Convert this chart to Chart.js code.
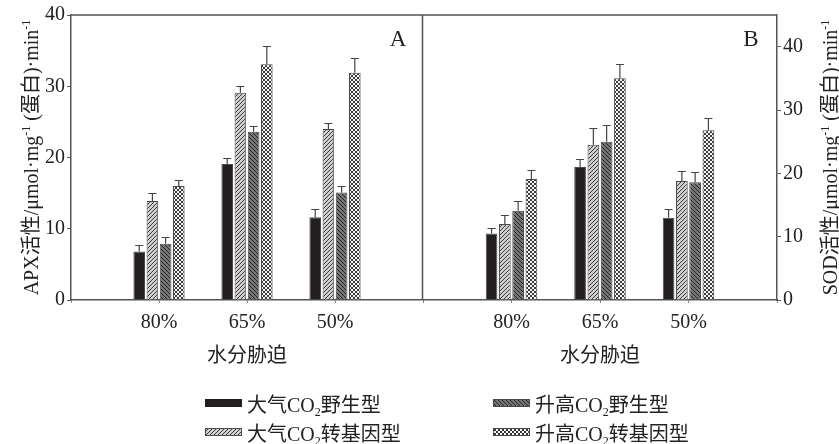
<!DOCTYPE html>
<html>
<head>
<meta charset="utf-8">
<script src="https://cdn.jsdelivr.net/npm/chart.js@4.4.1/dist/chart.umd.min.js"></script>
<style>
  html, body { margin: 0; padding: 0; background: #fff; }
  #wrap { position: relative; width: 839px; height: 444px; overflow: hidden; }
  #wrap canvas.chart { position: absolute; top: 0; }
  .leg { position: absolute; display: flex; align-items: center; height: 24px;
         font: 20px 'Liberation Serif', 'Noto Sans CJK SC', serif; color: #222; white-space: nowrap; }
  .leg canvas { margin-right: 5px; }
  .leg sub { font-size: 12px; vertical-align: -4px; line-height: 0; }
</style>
</head>
<body>
<div id="wrap">
  <canvas id="chartA" class="chart" width="424" height="444" style="left:0"></canvas>
  <canvas id="chartB" class="chart" width="416" height="444" style="left:423px"></canvas>
</div>
<script>
// categories and series
const categories = ['80%', '65%', '50%'];
const seriesNames = ['大气CO2野生型', '大气CO2转基因型', '升高CO2野生型', '升高CO2转基因型'];

// panel A: APX activity (mean, upper error)
const apxAmbientWT = [6.8, 19.1, 11.6];
const apxAmbientTG = [13.9, 29.1, 24.0];
const apxElevatedWT = [7.9, 23.6, 15.1];
const apxElevatedTG = [16.0, 33.1, 31.9];
const apxAmbientWTErr = [0.9, 0.9, 1.2];
const apxAmbientTGErr = [1.1, 0.9, 0.8];
const apxElevatedWTErr = [1.0, 0.8, 0.9];
const apxElevatedTGErr = [0.9, 2.5, 2.1];

// panel B: SOD activity
const sodAmbientWT = [10.5, 21.0, 13.0];
const sodAmbientTG = [12.0, 24.5, 18.8];
const sodElevatedWT = [14.1, 25.0, 18.6];
const sodElevatedTG = [19.1, 35.0, 26.8];
const sodAmbientWTErr = [0.9, 1.3, 1.3];
const sodAmbientTGErr = [1.5, 2.6, 1.5];
const sodElevatedWTErr = [1.6, 2.7, 1.6];
const sodElevatedTGErr = [1.4, 2.2, 2.0];

const apxTicks = [0, 10, 20, 30, 40];
const sodTicks = [0, 10, 20, 30, 40];

const SERIF = "'Liberation Serif', 'Noto Sans CJK SC', serif";
const AXIS = '#555';

// pixel patterns: 4x4 tiles
function makePattern(kind) {
  if (kind === 'solid') return '#231f20';
  const s = 4;
  const c = document.createElement('canvas');
  c.width = c.height = s;
  const g = c.getContext('2d');
  g.fillStyle = kind === 'light' ? '#cfcfcf' : kind === 'dark' ? '#767676' : '#f6f6f6';
  g.fillRect(0, 0, s, s);
  g.fillStyle = kind === 'dark' ? '#222' : '#3a3a3a';
  for (let y = 0; y < s; y++) {
    for (let x = 0; x < s; x++) {
      const fwd = (x + y) % s === s - 1;
      const back = ((x - y) % s + s) % s === 0;
      if ((kind === 'light' && fwd) || (kind === 'dark' && back) || (kind === 'cross' && (fwd || back))) {
        g.fillRect(x, y, 1, 1);
      }
    }
  }
  return g.createPattern(c, 'repeat');
}
const fills = [makePattern('solid'), makePattern('light'), makePattern('dark'), makePattern('cross')];

const pad = arr => [null, ...arr, null];

function datasets(values, errs) {
  return values.map((v, k) => ({
    label: seriesNames[k],
    data: pad(v),
    errors: pad(errs[k]),
    backgroundColor: fills[k],
    borderColor: '#4a4a4a',
    borderWidth: 1
  }));
}

function drawRich(ctx, parts, size) {
  let w = 0;
  parts.forEach(p => {
    ctx.font = (p[1] ? size * 0.6 : size) + 'px ' + SERIF;
    w += ctx.measureText(p[0]).width;
  });
  let x = -w / 2;
  parts.forEach(p => {
    ctx.font = (p[1] ? size * 0.6 : size) + 'px ' + SERIF;
    ctx.fillText(p[0], x, p[1] ? -size * 0.42 : 0);
    x += ctx.measureText(p[0]).width;
  });
}

const errorBars = {
  id: 'errorBars',
  afterDatasetsDraw(chart) {
    const ctx = chart.ctx, y = chart.scales.y;
    ctx.save();
    ctx.strokeStyle = '#444';
    ctx.lineWidth = 1.2;
    chart.data.datasets.forEach((ds, di) => {
      chart.getDatasetMeta(di).data.forEach((bar, i) => {
        const v = ds.data[i];
        if (v == null) return;
        const top = Math.round(y.getPixelForValue(v + ds.errors[i])) + 0.5;
        ctx.beginPath();
        ctx.moveTo(bar.x, bar.y);
        ctx.lineTo(bar.x, top);
        ctx.moveTo(bar.x - 4, top);
        ctx.lineTo(bar.x + 4, top);
        ctx.stroke();
      });
    });
    ctx.restore();
  }
};

const decor = {
  id: 'decor',
  afterDraw(chart, args, o) {
    const ctx = chart.ctx, a = chart.chartArea;
    ctx.save();
    ctx.strokeStyle = AXIS;
    ctx.lineWidth = 1.5;
    ctx.beginPath();
    ctx.moveTo(a.left, a.top); ctx.lineTo(a.right, a.top);
    if (o.rightLine) { ctx.moveTo(a.right - 0.5, a.top); ctx.lineTo(a.right - 0.5, a.bottom); }
    ctx.stroke();
    ctx.fillStyle = '#222';
    // panel letter
    ctx.font = '23px ' + SERIF;
    ctx.textAlign = 'center';
    ctx.textBaseline = 'middle';
    ctx.fillText(o.letter, a.right - o.letterDx, a.top + 25);
    // x title
    ctx.font = '20px ' + SERIF;
    ctx.fillText('水分胁迫', (a.left + a.right) / 2, a.bottom + 57);
    // y title
    ctx.textAlign = 'left';
    ctx.textBaseline = 'alphabetic';
    ctx.translate(o.titleX + 7, (a.top + a.bottom) / 2);
    ctx.rotate(-Math.PI / 2);
    drawRich(ctx, o.title, 20);
    ctx.restore();
  }
};

function makeChart(id, values, errs, ticks, yMax, side, deco) {
  return new Chart(document.getElementById(id), {
    type: 'bar',
    data: { labels: ['', ...categories, ''], datasets: datasets(values, errs) },
    plugins: [errorBars, decor],
    options: {
      responsive: false,
      animation: false,
      devicePixelRatio: 1,
      layout: { padding: { top: 15, right: side === 'left' ? 1 : 0, left: 0, bottom: 0 } },
      plugins: { legend: { display: false }, tooltip: { enabled: false }, decor: deco },
      datasets: { bar: { categoryPercentage: 0.6, barPercentage: 0.88 } },
      scales: {
        x: {
          type: 'category',
          offset: false,
          grid: { offset: false, drawOnChartArea: false, tickLength: 3, color: '#888' },
          border: { color: AXIS, width: 1.5 },
          ticks: { font: { family: SERIF, size: 20 }, color: '#222', padding: 8, maxRotation: 0, autoSkip: false },
          afterFit: s => { s.height = 144; s.paddingLeft = 0; s.paddingRight = 0; }
        },
        y: {
          position: side,
          min: 0,
          max: yMax,
          afterBuildTicks: s => { s.ticks = ticks.map(v => ({ value: v })); },
          grid: { drawOnChartArea: false, tickLength: 4, color: AXIS },
          border: { color: AXIS, width: 1.5 },
          ticks: { font: { family: SERIF, size: 20 }, color: '#222', padding: 2 },
          afterFit: s => { s.width = side === 'left' ? 71 : 62; }
        }
      }
    }
  });
}

makeChart('chartA',
  [apxAmbientWT, apxAmbientTG, apxElevatedWT, apxElevatedTG],
  [apxAmbientWTErr, apxAmbientTGErr, apxElevatedWTErr, apxElevatedTGErr],
  apxTicks, 40, 'left',
  { letter: 'A', letterDx: 25, rightLine: true, titleX: 31,
    title: [['APX活性/μmol·mg', 0], ['-1', 1], [' (蛋白)·min', 0], ['-1', 1]] });

makeChart('chartB',
  [sodAmbientWT, sodAmbientTG, sodElevatedWT, sodElevatedTG],
  [sodAmbientWTErr, sodAmbientTGErr, sodElevatedWTErr, sodElevatedTGErr],
  sodTicks, 45, 'right',
  { letter: 'B', letterDx: 26, rightLine: false, titleX: 407,
    title: [['SOD活性/μmol·mg', 0], ['-1', 1], [' (蛋白)·min', 0], ['-1', 1]] });

// legend, column-major 2x2
const wrap = document.getElementById('wrap');
const legCols = [205, 493];
const legRows = [403, 432];
seriesNames.forEach((name, k) => {
  const d = document.createElement('div');
  d.className = 'leg';
  d.style.left = legCols[Math.floor(k / 2)] + 'px';
  d.style.top = (legRows[k % 2] - 12) + 'px';
  const sw = document.createElement('canvas');
  sw.width = 37; sw.height = 8;
  const g = sw.getContext('2d');
  g.fillStyle = fills[k];
  g.fillRect(0, 0, 37, 8);
  if (k > 0) { g.strokeStyle = '#4a4a4a'; g.lineWidth = 1; g.strokeRect(0.5, 0.5, 36, 7); }
  const t = document.createElement('span');
  t.innerHTML = name.replace('CO2', 'CO<sub>2</sub>');
  d.appendChild(sw);
  d.appendChild(t);
  wrap.appendChild(d);
});
</script>
</body>
</html>
